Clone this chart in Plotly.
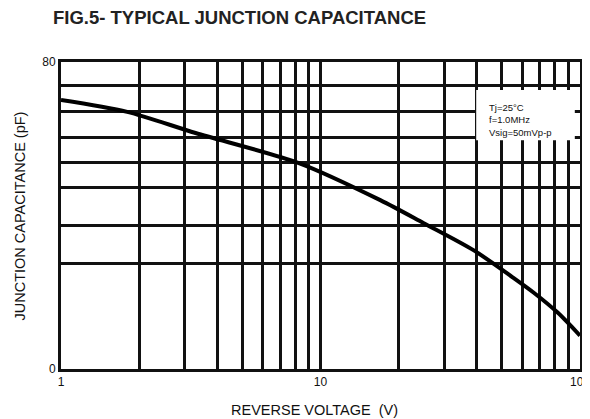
import plotly.graph_objects as go

# values
voltage = [1, 1.8, 3.3, 8.3, 17, 25, 39, 55, 66, 82, 100]
capacitance = [70.1, 67.0, 61.5, 53.6, 44.0, 38.0, 30.9, 23.9, 20.0, 14.7, 8.7]

x_grid = [1, 2, 3, 4, 5, 6, 7, 8, 9, 10, 20, 30, 40, 50, 60, 70, 80, 90, 100]
x_labels = ["1", "", "", "", "", "", "", "", "", "10", "", "", "", "", "", "", "", "", "100"]
y_grid = [0, 27.5, 37.5, 47.4, 53.9, 60.4, 67.2, 74.0, 80]
y_labels = ["0", "", "", "", "", "", "", "", "80"]

conditions = ["Tj=25°C", "f=1.0MHz", "Vsig=50mVp-p"]

INK = "#111111"
FONT = "Liberation Sans, Arial, sans-serif"

# the page body adds an 8px margin, so the figure is 8px smaller than the window
W, H = 582, 411

fig = go.Figure()
fig.add_trace(go.Scatter(
    x=voltage, y=capacitance, mode="lines",
    line=dict(color="black", width=4, shape="spline", smoothing=0.8),
    hoverinfo="skip", showlegend=False,
))

# white patch behind the test-condition note
fig.add_shape(
    type="rect", xref="paper", yref="paper",
    x0=0.80, x1=0.99, y0=0.745, y1=0.909,
    fillcolor="white", line_width=0, layer="above",
)
fig.add_annotation(
    xref="paper", yref="paper", x=0.82, y=0.811,
    xanchor="left", yanchor="middle", align="left",
    text="<br>".join(conditions), showarrow=False,
    font=dict(family=FONT, size=9.5, color=INK),
)

# axis titles placed by hand so the plot frame stays put
fig.add_annotation(
    xref="paper", yref="paper", x=0.489, y=-0.135,
    text="REVERSE VOLTAGE  (V)", showarrow=False,
    xanchor="center", yanchor="middle",
    font=dict(family=FONT, size=14.5, color=INK),
)
fig.add_annotation(
    xref="paper", yref="paper", x=-0.079, y=0.5,
    text="JUNCTION CAPACITANCE (pF)", showarrow=False, textangle=-90,
    xanchor="center", yanchor="middle",
    font=dict(family=FONT, size=14.5, color=INK),
)

fig.update_layout(
    width=W, height=H,
    margin=dict(l=53, r=10, t=54, b=50),
    paper_bgcolor="white", plot_bgcolor="white",
    title=dict(
        text="<b>FIG.5- TYPICAL JUNCTION CAPACITANCE</b>",
        x=45 / W, xanchor="left", y=1 - 10 / H, yanchor="middle",
        font=dict(family=FONT, size=18.5, color="#222222"),
        pad=dict(l=0, r=0, t=0, b=0),
    ),
    showlegend=False,
)
fig.update_xaxes(
    type="log", range=[0, 2], automargin=False,
    tickvals=x_grid, ticktext=x_labels, ticks="",
    ticklabeloverflow="allow",
    showgrid=True, gridcolor=INK, gridwidth=2.5,
    showline=True, linecolor=INK, linewidth=3, mirror=True,
    zeroline=False,
    tickfont=dict(family=FONT, size=12, color=INK),
)
fig.update_yaxes(
    range=[0, 80], automargin=False,
    tickvals=y_grid, ticktext=y_labels, ticks="",
    showgrid=True, gridcolor=INK, gridwidth=2.5,
    showline=True, linecolor=INK, linewidth=3, mirror=True,
    zeroline=False,
    tickfont=dict(family=FONT, size=12, color=INK),
)

fig.write_html("out.html")
